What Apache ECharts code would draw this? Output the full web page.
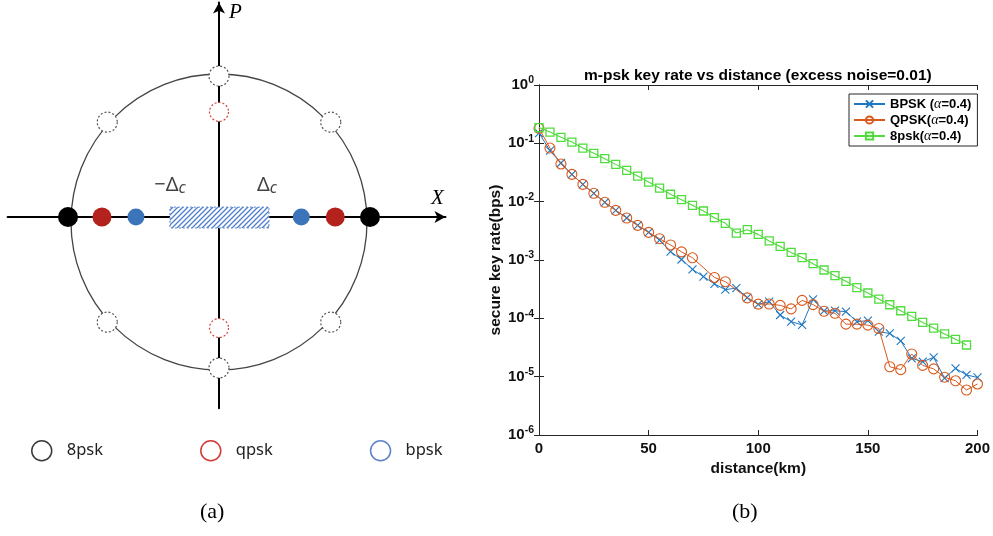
<!DOCTYPE html>
<html>
<head>
<meta charset="utf-8">
<title>m-psk constellation and key rate</title>
<script src="https://cdn.jsdelivr.net/npm/echarts@6.0.0/dist/echarts.min.js"></script>
<style>
  html, body { margin: 0; padding: 0; background: #fff; }
  #main { width: 993px; height: 536px; }
</style>
</head>
<body>
<div id="main"></div>
<script>
// ---- (a) constellation, in units of the 8psk ring radius ----
const ring8Open = [[0, 0.966], [0.74, 0.65], [-0.74, 0.65], [-0.74, -0.72], [0.74, -0.72], [0, -1.034]]
const ring8Solid = [[-1.0, 0], [1.0, 0]]
const qpskOpen = [[0, 0.72], [0, -0.76]]
const qpskSolid = [[-0.775, 0], [0.77, 0]]
const bpskSolid = [[-0.55, 0], [0.545, 0]]
const cutoffBox = [[-0.325, 0.068, 0.331, -0.075]] // -Δc .. Δc
const deltaLabels = [[-0.325, 0.22, '−Δ'], [0.318, 0.22, 'Δ']]
const diagramLegend = ['8psk', 'qpsk', 'bpsk']

// ---- (b) key rate vs distance ----
const distance = [0, 5, 10, 15, 20, 25, 30, 35, 40, 45, 50, 55, 60, 65, 70, 75, 80, 85, 90, 95,
  100, 105, 110, 115, 120, 125, 130, 135, 140, 145, 150, 155, 160, 165, 170, 175, 180, 185, 190, 195, 200]
const bpskRate = [0.150, 0.075, 0.046, 0.0294, 0.0198, 0.0139, 0.00975, 0.0071, 0.00525, 0.00393,
  0.00298, 0.0022, 0.00139, 0.00102, 0.00069, 0.00052, 0.00039, 0.00031, 0.00033, 0.000226,
  0.000174, 0.000193, 0.000114, 0.000088, 0.000077, 0.000212, 0.000134, 0.000135, 0.00013, 0.000088,
  0.000091, 0.000059, 0.000055, 0.000041, 0.0000206, 0.0000181, 0.0000214, 0.0000094, 0.0000139, 0.0000107,
  0.0000097]
const qpskRate = [0.181, 0.083, 0.0443, 0.0294, 0.0198, 0.0139, 0.00975, 0.0071, 0.00525, 0.00393,
  0.00298, 0.00232, 0.00181, 0.00138, 0.00109, null, 0.000502, 0.000425, null, 0.000224,
  0.000175, 0.000176, 0.000167, 0.000145, 0.000203, 0.000172, 0.000132, 0.000122, 0.0000795, 0.0000795,
  0.0000765, 0.000067, 0.0000148, 0.0000132, 0.0000245, 0.0000156, 0.0000136, 0.0000098, 0.0000085, 0.0000059,
  0.0000075]
const psk8Rate = [0.186, 0.156, 0.127, 0.105, 0.083, 0.0674, 0.0546, 0.0436, 0.0345, 0.0275,
  0.0217, 0.0171, 0.0134, 0.0108, 0.00865, 0.00692, 0.00532, 0.00425, 0.0029, 0.00331,
  0.00275, 0.00212, 0.00171, 0.00135, 0.0011, 0.000865, 0.000674, 0.000539, 0.000431, 0.000336,
  0.000272, 0.000214, 0.000171, 0.000135, 0.000108, 0.000085, 0.000068, 0.000054, 0.0000436, 0.0000349,
  null]
const rateNames = ['BPSK (α=0.4)', 'QPSK(α=0.4)', '8psk(α=0.4)']
const xTicks = [0, 50, 100, 150, 200]

const pairs = arr => distance.map((d, i) => [d, arr[i]])
const axisColor = '#262626'

// diagonal hatch used for the cutoff box
function makeHatch() {
  const c = document.createElement('canvas')
  c.width = 5
  c.height = 5
  const g = c.getContext('2d')
  g.fillStyle = '#fff'
  g.fillRect(0, 0, 5, 5)
  g.strokeStyle = '#4f7fcc'
  g.lineWidth = 1.3
  g.beginPath()
  g.moveTo(-1, 6); g.lineTo(6, -1)
  g.moveTo(-1, 1); g.lineTo(1, -1)
  g.moveTo(4, 6); g.lineTo(6, 4)
  g.stroke()
  return { image: c, repeat: 'repeat' }
}
const hatch = makeHatch()

const openDashed = (color) => ({ color: '#fff', opacity: 1, borderColor: color, borderWidth: 1.2, borderType: [2, 2] })

const chart = echarts.init(document.getElementById('main'), null, { renderer: 'canvas' })

chart.setOption({
  animation: false,
  textStyle: { fontFamily: 'Liberation Sans, Arial, sans-serif' },
  title: {
    text: 'm-psk key rate vs distance (excess noise=0.01)',
    left: 584,
    top: 68,
    padding: 0,
    textStyle: { fontSize: 15.5, fontWeight: 'bold', color: '#000' }
  },
  grid: [
    { left: 7.6, top: 2.4, width: 437.9, height: 405.9 },
    { left: 539, top: 85, width: 442, height: 350 }
  ],
  polar: { center: [219, 222], radius: 148 },
  angleAxis: {
    axisLine: { lineStyle: { color: '#444', width: 1.3 } },
    axisTick: { show: false },
    axisLabel: { show: false },
    splitLine: { show: false }
  },
  radiusAxis: { show: false },
  xAxis: [
    {
      gridIndex: 0,
      type: 'value',
      min: -1.4,
      max: 1.5,
      axisLine: {
        onZero: true,
        symbol: ['none', 'arrow'],
        symbolSize: [9, 11],
        lineStyle: { color: '#000', width: 2 }
      },
      axisTick: { show: false },
      axisLabel: { show: false },
      splitLine: { show: false },
      name: 'X',
      nameLocation: 'end',
      nameGap: -8,
      nameTextStyle: {
        fontFamily: 'Liberation Serif', fontStyle: 'italic', fontSize: 21, color: '#000',
        align: 'center', verticalAlign: 'bottom', padding: [0, 0, 8, 0]
      }
    },
    {
      gridIndex: 1,
      type: 'value',
      min: 0,
      max: 200,
      interval: 50,
      axisLine: { lineStyle: { color: axisColor } },
      axisTick: { inside: true, length: 5, lineStyle: { color: axisColor } },
      axisLabel: { margin: 6, fontSize: 15, fontWeight: 'bold', color: '#111',
        formatter: v => (xTicks.includes(v) ? String(v) : '') },
      splitLine: { show: false },
      name: 'distance(km)',
      nameLocation: 'middle',
      nameGap: 24,
      nameTextStyle: { fontSize: 15.5, fontWeight: 'bold', color: '#111' }
    },
    {
      gridIndex: 1,
      type: 'value',
      position: 'top',
      min: 0,
      max: 200,
      interval: 50,
      axisLine: { lineStyle: { color: axisColor } },
      axisTick: { inside: true, length: 5, lineStyle: { color: axisColor } },
      axisLabel: { show: false },
      splitLine: { show: false }
    }
  ],
  yAxis: [
    {
      gridIndex: 0,
      type: 'value',
      min: -1.31,
      max: 1.47,
      axisLine: {
        onZero: true,
        symbol: ['none', 'arrow'],
        symbolSize: [9, 11],
        lineStyle: { color: '#000', width: 2 }
      },
      axisTick: { show: false },
      axisLabel: { show: false },
      splitLine: { show: false },
      name: 'P',
      nameLocation: 'end',
      nameGap: -21,
      nameTextStyle: {
        fontFamily: 'Liberation Serif', fontStyle: 'italic', fontSize: 21, color: '#000',
        align: 'left', verticalAlign: 'bottom', padding: [0, 0, 0, 10]
      }
    },
    {
      gridIndex: 1,
      type: 'log',
      logBase: 10,
      min: 1e-6,
      max: 1,
      splitNumber: 6,
      axisLine: { show: true, lineStyle: { color: axisColor } },
      axisTick: { inside: true, length: 5, lineStyle: { color: axisColor } },
      axisLabel: {
        margin: 5,
        formatter: v => '{b|10}{e|' + Math.round(Math.log10(v)) + '}',
        rich: {
          b: { fontSize: 15, fontWeight: 'bold', color: '#111' },
          e: { fontSize: 10.5, fontWeight: 'bold', color: '#111', padding: [0, 0, 9, 0] }
        }
      },
      splitLine: { show: false },
      name: 'secure key rate(bps)',
      nameLocation: 'middle',
      nameGap: 35,
      nameTextStyle: { fontSize: 15.5, fontWeight: 'bold', color: '#111' }
    },
    {
      gridIndex: 1,
      type: 'log',
      logBase: 10,
      position: 'right',
      min: 1e-6,
      max: 1,
      splitNumber: 6,
      axisLine: { show: true, lineStyle: { color: axisColor } },
      axisTick: { inside: true, length: 5, lineStyle: { color: axisColor } },
      axisLabel: { show: false },
      splitLine: { show: false }
    }
  ],
  legend: [
    {
      data: [
        { name: diagramLegend[0], icon: 'circle', itemStyle: { color: '#fff', borderColor: '#3a3a3a', borderWidth: 1.5, borderType: 'solid' } },
        { name: diagramLegend[1], icon: 'circle', itemStyle: { color: '#fff', borderColor: '#d23a36', borderWidth: 1.5, borderType: 'solid' } },
        { name: diagramLegend[2], icon: 'circle', itemStyle: { color: '#fff', borderColor: '#5b82c9', borderWidth: 1.5, borderType: 'solid' } }
      ],
      left: 26,
      top: 435,
      itemGap: 97,
      itemWidth: 20,
      itemHeight: 20,
      selectedMode: false,
      textStyle: { fontFamily: 'Noto Sans', fontSize: 16.5, color: '#222', padding: [0, 0, 0, 10] }
    },
    {
      data: rateNames,
      orient: 'vertical',
      left: 849,
      top: 94,
      padding: [3, 6, 3, 4],
      itemGap: 2,
      itemWidth: 31,
      itemHeight: 9,
      selectedMode: false,
      borderColor: axisColor,
      borderWidth: 1,
      borderRadius: 0,
      backgroundColor: '#fff',
      formatter: name => {
        const parts = name.split('α')
        return '{t|' + parts[0] + '}{a|α}{t|' + parts[1] + '}'
      },
      textStyle: {
        rich: {
          t: { fontSize: 13, fontWeight: 'bold', color: '#000' },
          a: { fontSize: 14, fontFamily: 'Liberation Serif', fontStyle: 'italic', color: '#000' }
        }
      }
    }
  ],
  graphic: [
    { type: 'text', left: 200, top: 501, style: { text: '(a)', font: '22px "Liberation Serif", serif', fill: '#000' } },
    { type: 'text', left: 732, top: 501, style: { text: '(b)', font: '22px "Liberation Serif", serif', fill: '#000' } }
  ],
  series: [
    {
      type: 'custom',
      name: 'cutoff',
      xAxisIndex: 0,
      yAxisIndex: 0,
      z: 3,
      data: cutoffBox,
      renderItem: function(params, api) {
        const p0 = api.coord([api.value(0), api.value(1)])
        const p1 = api.coord([api.value(2), api.value(3)])
        return {
          type: 'rect',
          shape: { x: p0[0], y: p0[1], width: p1[0] - p0[0], height: p1[1] - p0[1] },
          style: { fill: hatch, stroke: '#5b86cf', lineWidth: 1, lineDash: [2, 2] }
        }
      }
    },
    {
      type: 'scatter',
      name: diagramLegend[0],
      xAxisIndex: 0,
      yAxisIndex: 0,
      z: 4,
      symbolSize: 20,
      itemStyle: { opacity: 1 },
      data: ring8Open.map(p => ({ value: p, itemStyle: openDashed('#555') }))
        .concat(ring8Solid.map(p => ({ value: p, itemStyle: { color: '#000', opacity: 1 } })))
    },
    {
      type: 'scatter',
      name: diagramLegend[1],
      xAxisIndex: 0,
      yAxisIndex: 0,
      z: 4,
      symbolSize: 19,
      itemStyle: { opacity: 1 },
      data: qpskOpen.map(p => ({ value: p, itemStyle: openDashed('#d6443c') }))
        .concat(qpskSolid.map(p => ({ value: p, itemStyle: { color: '#b3221c', opacity: 1 } })))
    },
    {
      type: 'scatter',
      name: diagramLegend[2],
      xAxisIndex: 0,
      yAxisIndex: 0,
      z: 4,
      symbolSize: 17,
      itemStyle: { color: '#3c74ba', opacity: 1 },
      data: bpskSolid
    },
    {
      type: 'scatter',
      name: 'deltaLabels',
      xAxisIndex: 0,
      yAxisIndex: 0,
      symbolSize: 0,
      data: deltaLabels,
      label: {
        show: true,
        position: 'inside',
        formatter: p => '{d|' + p.value[2] + '}{c|c}',
        rich: {
          d: { fontFamily: 'Noto Sans', fontSize: 20, color: '#111' },
          c: { fontFamily: 'Noto Sans', fontStyle: 'italic', fontSize: 16, color: '#111', padding: [8, 0, 0, 0] }
        }
      }
    },
    {
      type: 'line',
      name: rateNames[0],
      xAxisIndex: 1,
      yAxisIndex: 1,
      z: 3,
      data: pairs(bpskRate),
      symbol: 'path://M0,0L10,10M10,0L0,10',
      symbolSize: 8,
      lineStyle: { color: '#1f77c0', width: 1 },
      itemStyle: { color: 'rgba(0,0,0,0)', borderColor: '#1f77c0', borderWidth: 1.1 }
    },
    {
      type: 'line',
      name: rateNames[1],
      xAxisIndex: 1,
      yAxisIndex: 1,
      z: 4,
      connectNulls: true,
      data: pairs(qpskRate),
      symbol: 'circle',
      symbolSize: 10,
      lineStyle: { color: '#d9581c', width: 1 },
      itemStyle: { color: 'rgba(0,0,0,0)', borderColor: '#d9581c', borderWidth: 1.1 }
    },
    {
      type: 'line',
      name: rateNames[2],
      xAxisIndex: 1,
      yAxisIndex: 1,
      z: 5,
      data: pairs(psk8Rate),
      symbol: 'rect',
      symbolSize: 8,
      lineStyle: { color: '#4fdc3c', width: 1.1 },
      itemStyle: { color: 'rgba(0,0,0,0)', borderColor: '#4fdc3c', borderWidth: 1.3 }
    }
  ]
})
</script>
</body>
</html>
